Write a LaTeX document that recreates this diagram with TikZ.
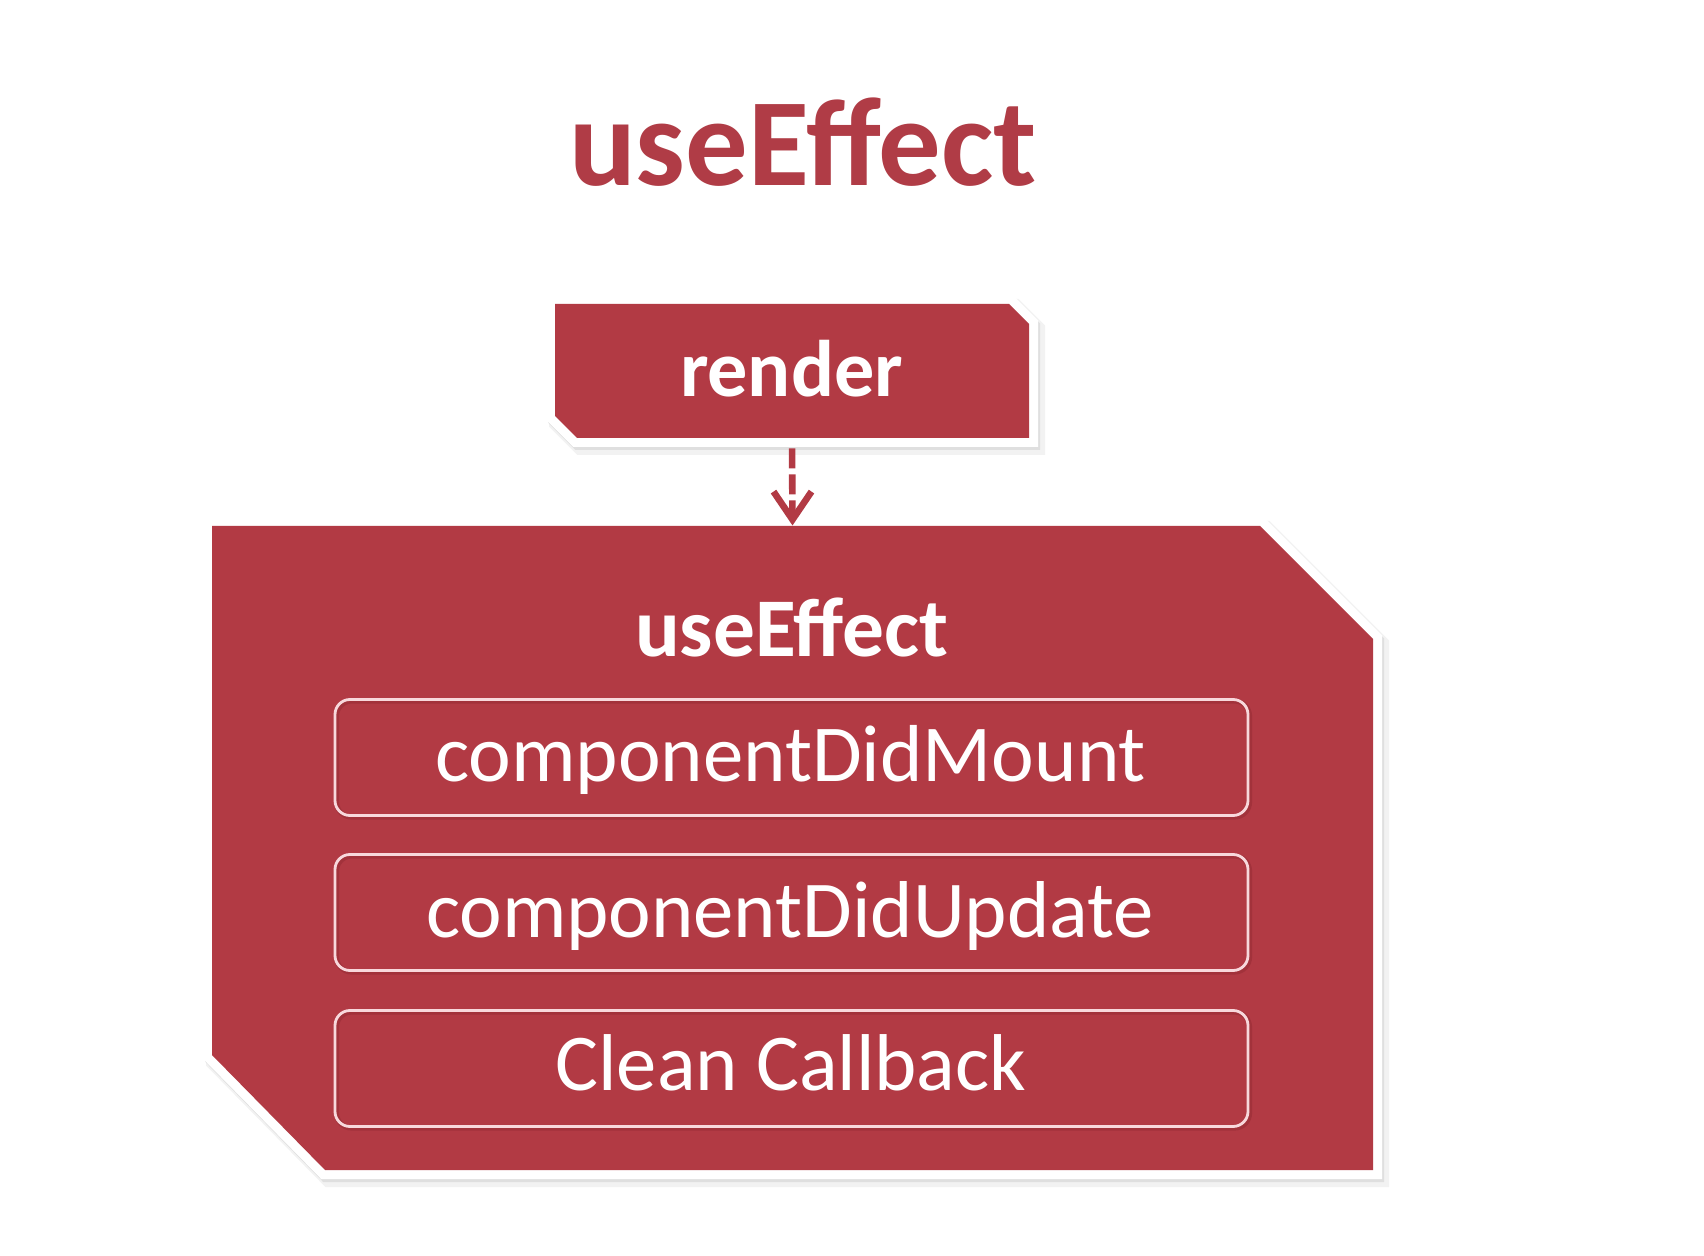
\documentclass[tikz,border=0pt]{standalone}
\usepackage{fontspec}
\setmainfont{Carlito}
\usetikzlibrary{arrows.meta}
\definecolor{rd}{HTML}{B23A44}
\definecolor{rdtitle}{HTML}{B03C46}
\definecolor{rddark}{HTML}{7E2029}
\definecolor{pinkline}{HTML}{F8D8DC}
\newlength\fitwidthlen
\newcommand{\fittext}[3]{%
  \settowidth{\fitwidthlen}{\fontsize{10pt}{12pt}\selectfont #2#3}%
  \pgfmathsetmacro\myfitsize{10*#1/\fitwidthlen}%
  \pgfmathsetmacro\myfitlead{1.2*\myfitsize}%
  \fontsize{\myfitsize pt}{\myfitlead pt}\selectfont #2#3}
\newcommand{\renderpath}{(555,304) -- (1009,304) -- (1029,324) -- (1029,438) -- (577,438) -- (555,416) -- cycle}
\newcommand{\effectpath}{(212,526) -- (1260,526) -- (1373,639) -- (1373,1170) -- (325,1170) -- (212,1055) -- cycle}
\begin{document}
\begin{tikzpicture}[x=0.5pt,y=-0.5pt,
  shadowa/.style={draw=black, fill=black, opacity=0.05, line width=11pt, line join=miter},
  shadowb/.style={draw=black, fill=black, opacity=0.08, line width=9pt, line join=miter},
  whiteframe/.style={draw=white, fill=white, line width=9pt, line join=miter},
  redfill/.style={fill=rd},
  anchorbox/.style={shape=rectangle, inner sep=0pt},
  inbox/.style={shape=rectangle, rounded corners=7.5pt, draw=pinkline, line width=1.4pt,
    minimum width=456.5pt, minimum height=58pt, inner sep=0pt,
    preaction={draw=rddark, opacity=0.3, line width=2.5pt, transform canvas={xshift=0.8pt,yshift=-0.8pt}}},
  lbl/.style={anchor=base, inner sep=0pt, text=white},
  flowdash/.style={draw=rd, line width=3.3pt, dash pattern=on 10pt off 3pt, shorten <=5pt, shorten >=4pt},
  flowtip/.style={draw=rd, line width=3.3pt, line join=miter, line cap=butt}
]
\useasboundingbox[fill=white] (0,0) rectangle (1704,1256);

% title
\node[anchor=base, inner sep=0pt, text=rdtitle] (title) at (803,186)
  {\fittext{234}{\bfseries}{useEffect}};

% frames (shadow, white border, red fill)
\path[shadowa, shift={(5,6)}] \renderpath;
\path[shadowb, shift={(2,3)}] \renderpath;
\path[whiteframe] \renderpath;
\path[redfill] \renderpath;

\path[shadowa, shift={(5,6)}] \effectpath;
\path[shadowb, shift={(2,3)}] \effectpath;
\path[whiteframe] \effectpath;
\path[redfill] \effectpath;

% named nodes on the frames
\node[anchorbox, minimum width=237pt, minimum height=67pt] (render) at (792,371) {};
\node[anchorbox, minimum width=580.5pt, minimum height=322pt] (effect) at (792.5,848) {};

\node[lbl] (renderlbl) at (791.5,397) {\fittext{111.5}{\bfseries}{render}};
\node[lbl] (effectlbl) at (791.5,657) {\fittext{156.5}{\bfseries}{useEffect}};

% inner boxes
\node[inbox] (mount) at (791.5,757.5) {};
\node[inbox] (update) at (791.5,912.5) {};
\node[inbox] (clean) at (791.5,1068.5) {};
\node[lbl] (mountlbl) at (790.5,782) {\fittext{355.5}{}{componentDidMount}};
\node[lbl] (updatelbl) at (790,937) {\fittext{364}{}{componentDidUpdate}};
\node[lbl] (cleanlbl) at (791,1090) {\fittext{235.5}{}{Clean Callback}};

% connector: dashed shaft and open V head at the big box
\draw[flowdash] (render.south) -- (effect.north);
\draw[flowtip] ([xshift=-9.5pt,yshift=17pt]effect.north) -- ([yshift=3pt]effect.north)
  -- ([xshift=9.5pt,yshift=17pt]effect.north);
\end{tikzpicture}
\end{document}
